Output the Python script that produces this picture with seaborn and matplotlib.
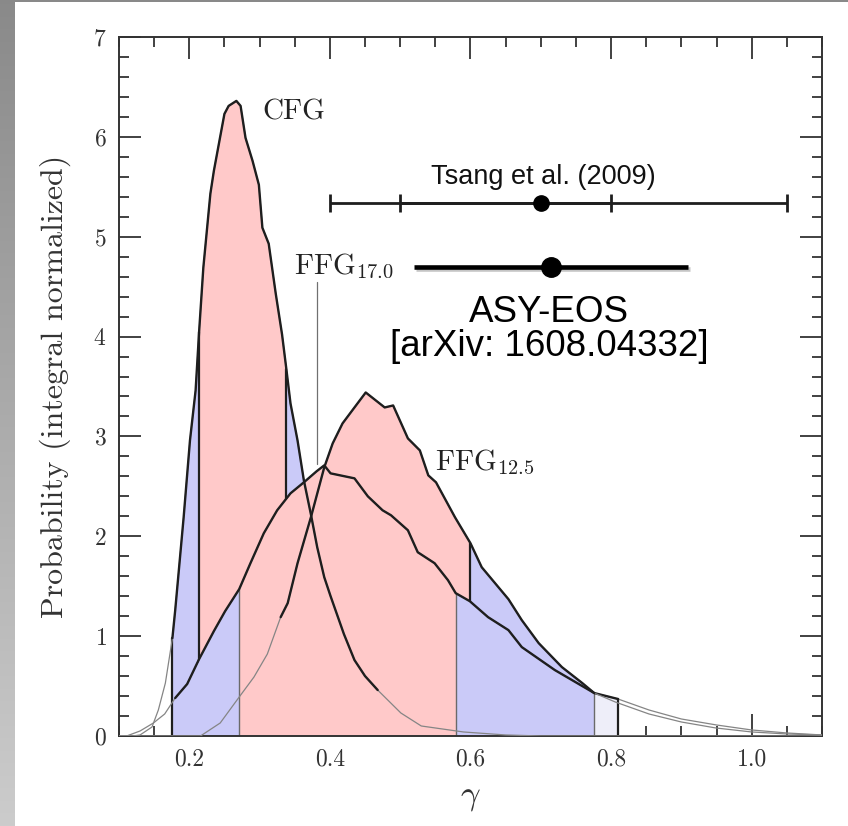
import numpy as np
import pandas as pd
import matplotlib
matplotlib.use("Agg")
import matplotlib.pyplot as plt
import matplotlib.patheffects as pe
from matplotlib.ticker import MultipleLocator
import seaborn as sns

# ---------------------------
# Data
# ---------------------------
cfg_x = [0.10, 0.12, 0.13, 0.147, 0.156, 0.166, 0.176, 0.180, 0.192, 0.201, 0.209, 0.214,
         0.220, 0.230, 0.235, 0.250, 0.256, 0.267, 0.273, 0.280, 0.290, 0.299, 0.304, 0.313,
         0.323, 0.332, 0.338, 0.344, 0.354, 0.363, 0.373, 0.382, 0.392, 0.401, 0.420, 0.435,
         0.450, 0.468, 0.501, 0.530, 0.550, 0.590, 0.650, 0.700, 1.10]
cfg_y = [0.0, 0.0, 0.01, 0.09, 0.26, 0.53, 0.98, 1.26, 2.19, 2.96, 3.46, 4.05,
         4.69, 5.43, 5.66, 6.23, 6.31, 6.36, 6.31, 5.99, 5.76, 5.52, 5.09, 4.93,
         4.43, 4.02, 3.68, 3.33, 2.96, 2.56, 2.22, 1.89, 1.59, 1.40, 1.02, 0.76,
         0.60, 0.46, 0.23, 0.10, 0.08, 0.04, 0.01, 0.0, 0.0]

ffg17_x = [0.10, 0.111, 0.13, 0.149, 0.165, 0.18, 0.197, 0.214, 0.235, 0.251, 0.271, 0.287,
           0.306, 0.325, 0.344, 0.363, 0.381, 0.392, 0.401, 0.435, 0.454, 0.475, 0.487, 0.511,
           0.525, 0.549, 0.568, 0.579, 0.599, 0.625, 0.654, 0.673, 0.720, 0.776, 0.806, 0.854,
           0.90, 0.949, 1.00, 1.05, 1.10]
ffg17_y = [0.0, 0.0, 0.05, 0.13, 0.22, 0.38, 0.52, 0.77, 1.05, 1.25, 1.47, 1.73,
           2.03, 2.26, 2.43, 2.54, 2.65, 2.71, 2.63, 2.58, 2.40, 2.26, 2.21, 2.06,
           1.84, 1.73, 1.56, 1.43, 1.35, 1.19, 1.06, 0.89, 0.66, 0.43, 0.34, 0.22,
           0.14, 0.08, 0.04, 0.02, 0.01]

ffg125_x = [0.10, 0.216, 0.244, 0.271, 0.292, 0.311, 0.330, 0.340, 0.354, 0.373, 0.392, 0.404,
            0.418, 0.435, 0.451, 0.478, 0.490, 0.511, 0.528, 0.540, 0.551, 0.578, 0.600, 0.616,
            0.654, 0.673, 0.697, 0.730, 0.759, 0.776, 0.810, 0.854, 0.90, 0.95, 1.00, 1.05, 1.10]
ffg125_y = [0.0, 0.0, 0.13, 0.39, 0.59, 0.82, 1.19, 1.33, 1.73, 2.19, 2.69, 2.93,
            3.13, 3.29, 3.44, 3.29, 3.31, 2.98, 2.86, 2.61, 2.54, 2.19, 1.93, 1.69,
            1.37, 1.16, 0.93, 0.69, 0.53, 0.43, 0.37, 0.26, 0.17, 0.11, 0.06, 0.03, 0.01]

# confidence bands (lo, hi, kind) and the range drawn with a bold outline
cfg_bands = [(0.176, 0.450, "2s"), (0.214, 0.338, "1s")]
ffg17_bands = [(0.180, 0.776, "2s"), (0.271, 0.579, "1s")]
ffg125_bands = [(0.776, 0.810, "3s"), (0.330, 0.776, "2s"), (0.373, 0.600, "1s")]
cfg_edges = [0.176, 0.214, 0.338]
ffg17_edges = [0.271, 0.579, 0.776]
ffg125_edges = [0.600, 0.810]
cfg_bold = (0.176, 0.468)
ffg17_bold = (0.18, 0.776)
ffg125_bold = (0.33, 0.81)

# experimental constraints
tsang_center, tsang_y = 0.70, 5.34
tsang_inner = (0.50, 0.80)
tsang_outer = (0.40, 1.05)
asy_center, asy_y, asy_err = 0.715, 4.70, 0.195

x_ticks = [0.2, 0.4, 0.6, 0.8, 1.0]
x_tick_labels = ["0.2", "0.4", "0.6", "0.8", "1.0"]
y_ticks = [0, 1, 2, 3, 4, 5, 6, 7]

# ---------------------------
# Style
# ---------------------------
sns.set_theme(style="ticks")
plt.rcParams["font.family"] = "serif"
plt.rcParams["font.serif"] = ["cmr10"]
plt.rcParams["mathtext.fontset"] = "cm"
plt.rcParams["axes.formatter.use_mathtext"] = True

fill_colors = {"1s": "#ffc9c9", "2s": "#cacaf8", "3s": "#eeeef9"}
dark = "#1e1e1e"
grey = "#858585"
sans = ["Liberation Sans", "DejaVu Sans"]

fig = plt.figure(figsize=(8.48, 8.26), dpi=100)

# slide background: grey strip on the left and top
bg = fig.add_axes([0, 0, 1, 1], zorder=-10)
img = np.ones((826, 848, 3))
shade = np.linspace(0.54, 0.80, 826)[:, None]
img[:, :15, :] = shade[:, :, None]
img[:2, :, :] = 0.54
bg.imshow(img, aspect="auto", interpolation="nearest")
bg.axis("off")

ax = fig.add_axes([0.1403, 0.1090, 0.8290, 0.8462])
ax.set_facecolor("white")


def draw_fills(x, y, bands, edges, edge_color, edge_lw):
    x = np.asarray(x)
    y = np.asarray(y)
    for lo, hi, kind in bands:
        m = (x >= lo - 1e-9) & (x <= hi + 1e-9)
        ax.fill_between(x[m], 0, y[m], color=fill_colors[kind], lw=0, zorder=1)
    for xe in edges:
        ye = y[np.argmin(np.abs(x - xe))]
        ax.plot([xe, xe], [0, ye], color=edge_color, lw=edge_lw, zorder=1)


def draw_outline(x, y, bold):
    df = pd.DataFrame({"x": x, "y": y})
    sns.lineplot(data=df, x="x", y="y", ax=ax, color=grey, lw=0.9,
                 sort=False, estimator=None, zorder=3)
    seg = df[(df["x"] >= bold[0] - 1e-9) & (df["x"] <= bold[1] + 1e-9)]
    sns.lineplot(data=seg, x="x", y="y", ax=ax, color=dark, lw=1.7,
                 sort=False, estimator=None, zorder=3)


draw_fills(ffg125_x, ffg125_y, ffg125_bands, ffg125_edges, dark, 1.6)
draw_fills(cfg_x, cfg_y, cfg_bands, cfg_edges, dark, 1.6)
draw_fills(ffg17_x, ffg17_y, ffg17_bands, ffg17_edges, "#6a6a6a", 1.0)

draw_outline(ffg125_x, ffg125_y, ffg125_bold)
draw_outline(ffg17_x, ffg17_y, ffg17_bold)
draw_outline(cfg_x, cfg_y, cfg_bold)

# pointer for the FFG17.0 label
ax.plot([0.381, 0.381], [2.72, 4.55], color="#707070", lw=0.9, zorder=3)

# Tsang et al. (2009)
ax.errorbar(tsang_center, tsang_y,
            xerr=[[tsang_center - tsang_outer[0]], [tsang_outer[1] - tsang_center]],
            fmt="none", ecolor=dark, elinewidth=2.0, capsize=6.5, capthick=2.0, zorder=4)
ax.errorbar(tsang_center, tsang_y,
            xerr=[[tsang_center - tsang_inner[0]], [tsang_inner[1] - tsang_center]],
            fmt="o", color="black", ms=11, ecolor=dark, elinewidth=2.0,
            capsize=6.5, capthick=2.0, zorder=5)

# ASY-EOS
shadow = [pe.SimpleLineShadow(offset=(1.5, -1.5), alpha=0.25), pe.Normal()]
eb = ax.errorbar(asy_center, asy_y, xerr=asy_err, fmt="o", color="black", ms=14,
                 elinewidth=3.3, capsize=0, zorder=5)
for ln in eb.lines[2]:
    ln.set_path_effects(shadow)

# labels on the curves
ax.text(0.304, 6.17, "CFG", fontsize=21, va="baseline", ha="left", color="#222")
ax.text(0.349, 4.63, r"$\mathrm{FFG}_{17.0}$", fontsize=21, va="baseline", ha="left", color="#222")
ax.text(0.549, 2.66, r"$\mathrm{FFG}_{12.5}$", fontsize=21, va="baseline", ha="left", color="#222")
ax.text(0.703, 5.53, "Tsang et al. (2009)", fontsize=19.5, va="baseline", ha="center",
        family=sans, color="#111")
ax.text(0.712, 4.15, "ASY-EOS", fontsize=26.5, va="baseline", ha="center", family=sans, color="black")
ax.text(0.712, 3.81, "[arXiv: 1608.04332]", fontsize=26.5, va="baseline", ha="center",
        family=sans, color="black")

# axes
ax.set_xlim(0.1, 1.1)
ax.set_ylim(0, 7)
ax.set_xticks(x_ticks)
ax.set_xticklabels(x_tick_labels)
ax.set_yticks(y_ticks)
ax.xaxis.set_minor_locator(MultipleLocator(0.05))
ax.yaxis.set_minor_locator(MultipleLocator(0.2))
ax.tick_params(which="both", direction="in", top=True, right=True, colors="#333",
               width=1.3, labelsize=17)
ax.tick_params(which="major", length=16, pad=9)
ax.tick_params(which="minor", length=7)
for s in ax.spines.values():
    s.set_linewidth(1.4)
    s.set_color("#333")
ax.set_xlabel(r"$\gamma$", fontsize=25, labelpad=8, color="#333")
ax.set_ylabel("Probability (integral normalized)", fontsize=23, labelpad=16, color="#333")
ax.grid(False)

fig.savefig("out.png", dpi=100, facecolor="white")
